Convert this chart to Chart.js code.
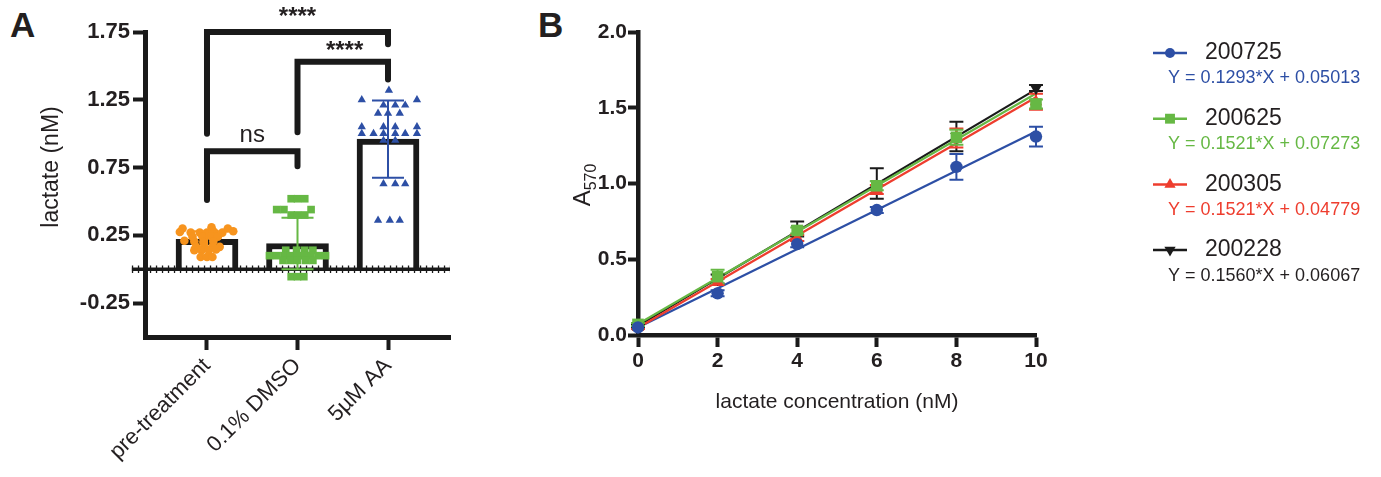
<!DOCTYPE html>
<html><head><meta charset="utf-8">
<script src="https://cdn.jsdelivr.net/npm/chart.js@4.4.1/dist/chart.umd.min.js"></script>
<style>
html,body{margin:0;padding:0;background:#fff;}
body{width:1381px;height:477px;position:relative;overflow:hidden;font-family:'Liberation Sans',Arial,sans-serif;}
canvas{position:absolute;top:0;}
#ca{left:0;} #cb{left:470px;}
.lbl{position:absolute;font-weight:bold;font-size:35px;color:#231f20;line-height:1;}
</style></head><body>
<div class="lbl" style="left:10px;top:7px">A</div>
<div class="lbl" style="left:538px;top:7px">B</div>
<canvas id="ca" width="480" height="477"></canvas>
<canvas id="cb" width="911" height="477"></canvas>
<script>
// ---------------- Panel A data ----------------
const categories = ['pre-treatment', '0.1% DMSO', '5\u00b5M AA'];
const barMeans = [0.22, 0.19, 0.96];
const barSD = [0.06, 0.19, 0.285];
const yTicksA = [-0.25, 0.25, 0.75, 1.25, 1.75];
// individual replicates: [horizontal jitter (category units), lactate value]
const preTreatment = [
  [-0.27,0.30],[0.05,0.31],[0.23,0.30],
  [-0.30,0.275],[-0.18,0.27],[-0.08,0.27],[0.0,0.27],[0.08,0.275],[0.17,0.27],[0.29,0.28],
  [-0.16,0.24],[-0.05,0.24],[0.04,0.245],[0.12,0.24],
  [-0.25,0.21],[-0.14,0.205],[-0.04,0.20],[0.07,0.205],
  [-0.12,0.165],[-0.03,0.17],[0.06,0.165],[0.14,0.165],
  [-0.14,0.14],[-0.06,0.14],[0.02,0.14],[0.10,0.145],
  [-0.07,0.09],[0.0,0.09],[0.06,0.09]
];
const dmso = [
  [-0.07,0.52],[0.0,0.52],[0.08,0.52],
  [-0.23,0.44],[-0.15,0.44],[0.15,0.44],
  [-0.07,0.40],[0.0,0.40],[0.08,0.40],
  [-0.13,0.14],[-0.01,0.14],[0.08,0.14],[0.17,0.14],
  [-0.31,0.10],[-0.23,0.10],[-0.15,0.10],[-0.08,0.10],[0.0,0.10],[0.08,0.10],[0.15,0.10],[0.23,0.10],[0.31,0.10],
  [-0.16,0.065],[-0.08,0.065],[0.0,0.065],[0.09,0.065],[0.17,0.065],
  [-0.07,-0.055],[0.0,-0.055],[0.07,-0.055]
];
const aa = [
  [0.01,1.32],
  [-0.29,1.25],[0.32,1.25],
  [-0.05,1.21],[0.08,1.21],[0.19,1.21],
  [-0.11,1.15],[0.0,1.15],[0.13,1.15],
  [-0.29,1.05],[-0.05,1.05],[0.08,1.05],[0.32,1.05],
  [-0.29,1.00],[-0.16,1.00],[-0.05,1.00],[0.08,1.00],[0.19,1.00],[0.32,1.00],
  [-0.05,0.95],[0.08,0.95],
  [-0.05,0.63],[0.08,0.63],[0.19,0.63],
  [-0.11,0.36],[0.02,0.36],[0.13,0.36]
];
// significance brackets: [xLeft, yLeftEnd, yTop, xRight, yRightEnd]
const brackets = [
  [0, 1.00, 1.75, 2, 1.66],
  [1, 1.01, 1.53, 2, 1.40],
  [0, 0.51, 0.87, 1, 0.76]
];
const sigLabels = [
  {text:'****', x:1.0, y:1.81},
  {text:'****', x:1.52, y:1.56},
  {text:'ns', x:0.5, y:0.94}
];

// ---------------- Panel B data ----------------
const concentrations = [0, 2, 4, 6, 8, 10];
const seriesNames = ['200725', '200625', '200305', '200228'];
const a200725 = [0.05, 0.275, 0.60, 0.825, 1.11, 1.31];
const sd200725 = [0.01, 0.02, 0.02, 0.02, 0.085, 0.065];
const a200625 = [0.07, 0.385, 0.69, 0.985, 1.305, 1.525];
const sd200625 = [0.01, 0.045, 0.02, 0.03, 0.05, 0.03];
const a200305 = [0.05, 0.35, 0.64, 0.96, 1.30, 1.54];
const sd200305 = [0.01, 0.02, 0.02, 0.03, 0.063, 0.053];
const a200228 = [0.06, 0.37, 0.70, 1.00, 1.31, 1.63];
const sd200228 = [0.01, 0.03, 0.05, 0.10, 0.097, 0.02];
// regression line end values at x = 0 and x = 10
const fit200725 = [0.050, 1.343];
const fit200625 = [0.073, 1.594];
const fit200305 = [0.048, 1.569];
const fit200228 = [0.061, 1.621];
const equations = ['Y = 0.1293*X + 0.05013', 'Y = 0.1521*X + 0.07273', 'Y = 0.1521*X + 0.04779', 'Y = 0.1560*X + 0.06067'];
const yTicksB = [0, 0.5, 1.0, 1.5, 2.0];
const xTicksB = [0, 2, 4, 6, 8, 10];

// ---------------- styling ----------------
const INK = '#231f20';
const ORANGE = '#f7941e', GREEN = '#66b844', BLUE = '#2d4fa5', RED = '#ee3d2e', BLACK = '#1a1a1a';
Chart.defaults.font.family = '"Liberation Sans", Arial, sans-serif';
Chart.defaults.color = INK;

function errorBarData(xs, means, sds, capHalf){
  const pts = [];
  xs.forEach((x,i)=>{
    const lo = means[i]-sds[i], hi = means[i]+sds[i];
    pts.push({x:x,y:lo},{x:x,y:hi},{x:x,y:null},
             {x:x-capHalf,y:hi},{x:x+capHalf,y:hi},{x:x,y:null},
             {x:x-capHalf,y:lo},{x:x+capHalf,y:lo},{x:x,y:null});
  });
  return pts;
}

// ---------------- Chart A ----------------
const xMinA = -0.685, xMaxA = 2.685;
const pointsA = [preTreatment, dmso, aa];
const colorsA = [ORANGE, GREEN, BLUE];
const stylesA = [{s:'circle', r:4.3}, {s:'rect', r:5.4}, {s:'triangle', r:4.8}];
const dsA = [];
dsA.push({type:'bar', data: barMeans.map((m,i)=>({x:i,y:m})), backgroundColor:'#fff', borderColor:BLACK,
  borderWidth:6, borderSkipped:'start', barThickness:62, order:50, clip:false});
dsA.push({type:'line', data:[{x:-0.83,y:0},{x:xMaxA,y:0}], borderColor:BLACK, borderWidth:3.5, pointRadius:0, order:40, clip:false});
dsA.push({type:'line', data:[{x:-0.83,y:0},{x:xMaxA,y:0}], borderColor:BLACK, borderWidth:7.5, borderDash:[1.3,4.7], pointRadius:0, order:39, clip:false});
brackets.forEach(b=>{
  dsA.push({type:'line', data:[{x:b[0],y:b[1]},{x:b[0],y:b[2]},{x:b[3],y:b[2]},{x:b[3],y:b[4]}],
    borderColor:BLACK, borderWidth:6, borderCapStyle:'round', borderJoinStyle:'miter', pointRadius:0, order:30, clip:false});
});
pointsA.forEach((pts,i)=>{
  dsA.push({type:'scatter', data: pts.map(p=>({x:i+p[0], y:p[1]})), backgroundColor:colorsA[i], borderColor:colorsA[i],
    pointBorderWidth:0, pointStyle:stylesA[i].s, pointRadius:stylesA[i].r, order:10, clip:false});
  dsA.push({type:'line', data: errorBarData([i],[barMeans[i]],[barSD[i]],0.177), borderColor:colorsA[i], borderWidth:2,
    pointRadius:0, spanGaps:false, order:5, clip:false});
});

const annotA = {
  id:'annotA',
  afterDatasetsDraw(chart){
    const {ctx, scales:{x,y}} = chart;
    ctx.save();
    ctx.fillStyle = INK; ctx.textAlign = 'center'; ctx.textBaseline = 'alphabetic';
    sigLabels.forEach(l=>{
      ctx.font = (l.text==='ns' ? '24px' : 'bold 24px') + ' "Liberation Sans", Arial, sans-serif';
      ctx.fillText(l.text, x.getPixelForValue(l.x), y.getPixelForValue(l.y));
    });
    ctx.translate(52, 167); ctx.rotate(-Math.PI/2);
    ctx.font = '23px "Liberation Sans", Arial, sans-serif'; ctx.textBaseline = 'middle';
    ctx.fillText('lactate (nM)', 0, 0);
    ctx.restore();
  }
};

new Chart(document.getElementById('ca'), {
  type:'scatter',
  data:{datasets:dsA},
  options:{
    responsive:false, animation:false, events:[],
    layout:{padding:{left:36, right:30, top:32, bottom:0}},
    plugins:{legend:{display:false}, tooltip:{enabled:false}},
    scales:{
      x:{type:'linear', min:xMinA, max:xMaxA, offset:false,
        afterBuildTicks:s=>{ s.ticks = [0,1,2].map(v=>({value:v})); },
        ticks:{callback:v=>categories[v], maxRotation:45, minRotation:45, autoSkip:false, font:{size:22}, color:INK, padding:3},
        grid:{drawOnChartArea:false, offset:false, tickLength:13, tickWidth:4, color:BLACK},
        border:{width:5, color:BLACK},
        afterFit:s=>{ s.height = 140; }},
      y:{min:-0.5, max:1.75,
        afterBuildTicks:s=>{ s.ticks = yTicksA.map(v=>({value:v})); },
        ticks:{callback:v=>v.toFixed(2), font:{size:22, weight:'bold'}, color:INK, padding:3},
        grid:{drawOnChartArea:false, tickLength:12, tickWidth:4, color:BLACK},
        border:{width:5, color:BLACK},
        afterFit:s=>{ s.width = 109; }}
    }
  },
  plugins:[annotA]
});

// ---------------- Chart B ----------------
const seriesB = [
  {name:seriesNames[0], vals:a200725, sd:sd200725, fit:fit200725, color:BLUE, style:'circle', r:6.2, rot:0, eq:equations[0]},
  {name:seriesNames[1], vals:a200625, sd:sd200625, fit:fit200625, color:GREEN, style:'rect', r:8.2, rot:0, eq:equations[1]},
  {name:seriesNames[2], vals:a200305, sd:sd200305, fit:fit200305, color:RED, style:'triangle', r:7.2, rot:0, eq:equations[2]},
  {name:seriesNames[3], vals:a200228, sd:sd200228, fit:fit200228, color:BLACK, style:'triangle', r:7.2, rot:180, eq:equations[3]}
];
const dsB = [];
seriesB.forEach((s,i)=>{
  dsB.push({type:'line', data:[{x:concentrations[0],y:s.fit[0]},{x:concentrations[concentrations.length-1],y:s.fit[1]}],
    borderColor:s.color, borderWidth:2.2, pointRadius:0, order:[23,20,21,22][i], clip:false});
  dsB.push({type:'line', data:errorBarData(concentrations, s.vals, s.sd, 0.175), borderColor:s.color, borderWidth:2,
    pointRadius:0, spanGaps:false, order:[13,10,11,12][i], clip:false});
  dsB.push({type:'scatter', data:concentrations.map((c,j)=>({x:c,y:s.vals[j]})), backgroundColor:s.color, borderColor:s.color,
    pointBorderWidth:0, pointStyle:s.style, pointRadius:s.r, rotation:s.rot, order:[0,1,2,3][i], clip:false});
});

function drawMarker(ctx, style, x, y, r, color, rot){
  ctx.fillStyle = color; ctx.beginPath();
  if (style==='circle') ctx.arc(x,y,r,0,2*Math.PI);
  else if (style==='rect'){ const h=r*Math.SQRT1_2; ctx.rect(x-h,y-h,2*h,2*h); }
  else { const d = rot ? -1 : 1; ctx.moveTo(x, y-d*r); ctx.lineTo(x+0.866*r, y+d*0.5*r); ctx.lineTo(x-0.866*r, y+d*0.5*r); }
  ctx.closePath(); ctx.fill();
}

const annotB = {
  id:'annotB',
  afterDraw(chart){
    const ctx = chart.ctx;
    ctx.save();
    // y title A570
    ctx.translate(120, 185); ctx.rotate(-Math.PI/2);
    ctx.fillStyle = INK; ctx.textBaseline = 'alphabetic'; ctx.textAlign = 'left';
    ctx.font = '24px "Liberation Sans", Arial, sans-serif';
    const wA = ctx.measureText('A').width;
    ctx.font = '16px "Liberation Sans", Arial, sans-serif';
    const wS = ctx.measureText('570').width;
    const x0 = -(wA + wS)/2;
    ctx.font = '24px "Liberation Sans", Arial, sans-serif';
    ctx.fillText('A', x0, 0);
    ctx.font = '16px "Liberation Sans", Arial, sans-serif';
    ctx.fillText('570', x0 + wA, 6);
    ctx.restore();
    // legend
    ctx.save();
    seriesB.forEach((s,i)=>{
      const yRow = 53 + i*65.7, yEq = yRow + 25.5;
      ctx.strokeStyle = s.color; ctx.lineWidth = 2.5;
      ctx.beginPath(); ctx.moveTo(683, yRow); ctx.lineTo(717, yRow); ctx.stroke();
      drawMarker(ctx, s.style, 700, yRow, s.style==='rect'?7:(s.style==='circle'?5:6.5), s.color, s.rot);
      ctx.fillStyle = INK; ctx.textBaseline = 'middle'; ctx.textAlign = 'left';
      ctx.font = '23px "Liberation Sans", Arial, sans-serif';
      ctx.fillText(s.name, 735, yRow);
      ctx.fillStyle = s.color === BLACK ? INK : s.color;
      ctx.font = '18px "Liberation Sans", Arial, sans-serif';
      ctx.fillText(s.eq, 698, yEq);
    });
    ctx.restore();
  }
};

new Chart(document.getElementById('cb'), {
  type:'scatter',
  data:{datasets:dsB},
  options:{
    responsive:false, animation:false, events:[],
    layout:{padding:{left:0, right:345, top:32, bottom:62}},
    plugins:{legend:{display:false}, tooltip:{enabled:false}},
    scales:{
      x:{type:'linear', min:0, max:10,
        afterBuildTicks:s=>{ s.ticks = xTicksB.map(v=>({value:v})); },
        ticks:{font:{size:21, weight:'bold'}, color:INK, padding:2, maxRotation:0},
        grid:{drawOnChartArea:false, tickLength:12, tickWidth:4, color:BLACK},
        border:{width:4.5, color:BLACK},
        title:{display:true, text:'lactate concentration (nM)', font:{size:21}, color:INK, padding:0},
        afterFit:s=>{ s.height = 80; }},
      y:{min:0, max:2,
        afterBuildTicks:s=>{ s.ticks = yTicksB.map(v=>({value:v})); },
        ticks:{callback:v=>v.toFixed(1), font:{size:21, weight:'bold'}, color:INK, padding:1},
        grid:{drawOnChartArea:false, tickLength:10, tickWidth:4, color:BLACK},
        border:{width:4.5, color:BLACK},
        afterFit:s=>{ s.width = 168; }}
    }
  },
  plugins:[annotB]
});
</script>
</body></html>
